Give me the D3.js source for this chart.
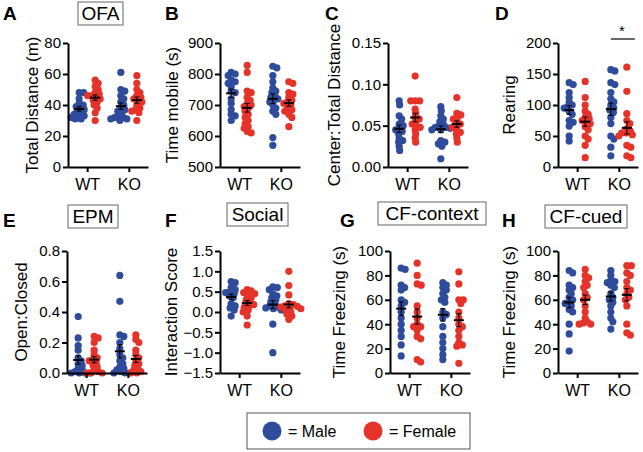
<!DOCTYPE html>
<html>
<head>
<meta charset="utf-8">
<script src="https://cdn.jsdelivr.net/npm/d3@7"></script>
<style>
body { margin: 0; background: #fff; }
svg text { font-family: "Liberation Sans", Arial, Helvetica, sans-serif; fill: #000; }
</style>
</head>
<body>
<svg id="chart"></svg>
<script>
// categories
const genotypes = ["WT", "KO"];
const sexes = ["Male", "Female"];

// A - OFA total distance (m)
const distWtM = [48, 48, 44, 41, 40, 39, 38, 37, 36, 35, 34, 33, 33, 32, 31, 31];
const distWtF = [56, 54, 52, 50, 48, 47, 46, 46, 45, 44, 43, 42, 40, 38, 35, 30];
const distKoM = [61, 50, 49, 46, 44, 42, 40, 38, 37, 36, 35, 33, 32, 32, 31, 31, 30];
const distKoF = [59, 54, 50, 48, 46, 45, 44, 43, 42, 40, 38, 37, 36, 35, 30];
// B - time mobile (s)
const mobileWtM = [800, 805, 795, 780, 775, 770, 760, 745, 740, 720, 705, 685, 670, 665, 650];
const mobileWtF = [828, 805, 745, 740, 725, 715, 705, 700, 695, 690, 680, 670, 660, 650, 640, 630, 625, 615, 610];
const mobileKoM = [825, 820, 795, 775, 755, 745, 740, 730, 725, 720, 715, 710, 700, 690, 680, 670, 595, 570];
const mobileKoF = [775, 770, 740, 735, 725, 715, 710, 705, 700, 690, 685, 680, 670, 660, 630];
// C - center : total distance
const centerWtM = [0.080, 0.075, 0.062, 0.058, 0.052, 0.050, 0.047, 0.045, 0.043, 0.040, 0.035, 0.032, 0.030, 0.025, 0.020];
const centerWtF = [0.110, 0.080, 0.080, 0.080, 0.070, 0.065, 0.060, 0.058, 0.055, 0.052, 0.050, 0.048, 0.045, 0.040, 0.035, 0.030];
const centerKoM = [0.073, 0.068, 0.062, 0.058, 0.055, 0.052, 0.050, 0.048, 0.047, 0.045, 0.048, 0.045, 0.032, 0.030, 0.028, 0.025, 0.010];
const centerKoF = [0.084, 0.065, 0.063, 0.060, 0.058, 0.055, 0.052, 0.050, 0.048, 0.045, 0.042, 0.040, 0.035, 0.030];
// D - rearing
const rearWtM = [136, 133, 120, 112, 105, 100, 98, 95, 90, 85, 75, 72, 66, 50, 42];
const rearWtF = [138, 112, 100, 90, 85, 80, 78, 75, 72, 70, 65, 60, 50, 45, 35, 15];
const rearKoM = [157, 155, 136, 133, 120, 110, 105, 100, 95, 92, 88, 80, 70, 50, 45, 32, 18];
const rearKoF = [161, 122, 86, 75, 70, 62, 58, 55, 55, 52, 50, 35, 32, 18, 15];
// E - EPM open : closed
const epmWtM = [0.37, 0.23, 0.18, 0.15, 0.10, 0.08, 0.06, 0.05, 0.03, 0.02, 0.01, 0.0, 0.0, 0.0, 0.0];
const epmWtF = [0.24, 0.23, 0.20, 0.15, 0.12, 0.10, 0.09, 0.08, 0.07, 0.05, 0.04, 0.02, 0.01, 0.0, 0.0, 0.0];
const epmKoM = [0.64, 0.47, 0.25, 0.24, 0.20, 0.16, 0.12, 0.10, 0.08, 0.06, 0.04, 0.03, 0.02, 0.01, 0.0, 0.0, 0.0];
const epmKoF = [0.25, 0.22, 0.20, 0.15, 0.12, 0.10, 0.08, 0.06, 0.05, 0.03, 0.02, 0.01, 0.0, 0.0];
// F - social interaction score
const socialWtM = [0.75, 0.72, 0.60, 0.55, 0.50, 0.48, 0.45, 0.40, 0.35, 0.20, 0.15, 0.10, 0.05, -0.10];
const socialWtF = [0.55, 0.52, 0.48, 0.45, 0.40, 0.35, 0.30, 0.25, 0.20, 0.18, 0.15, 0.10, 0.05, 0.0, -0.10, -0.32];
const socialKoM = [0.62, 0.60, 0.55, 0.45, 0.40, 0.35, 0.30, 0.25, 0.20, 0.15, 0.12, 0.10, 0.08, 0.05, -0.30, -1.0];
const socialKoF = [1.0, 0.65, 0.42, 0.20, 0.18, 0.15, 0.14, 0.12, 0.10, 0.08, 0.05, 0.0, -0.05, -0.10, -0.18];
// G - CF context freezing (s)
const ctxWtM = [86, 85, 72, 70, 68, 60, 58, 55, 50, 45, 40, 35, 30, 23, 14];
const ctxWtF = [90, 80, 73, 72, 55, 50, 45, 38, 40, 38, 35, 30, 28, 11, 9];
const ctxKoM = [74, 72, 70, 68, 65, 62, 60, 58, 50, 48, 45, 38, 30, 25, 20, 15, 11];
const ctxKoF = [83, 73, 60, 60, 57, 50, 45, 40, 38, 35, 30, 25, 23, 22, 8];
// H - CF cued freezing (s)
const cuedWtM = [84, 82, 72, 70, 68, 65, 62, 60, 58, 57, 55, 52, 50, 40, 32, 18];
const cuedWtF = [85, 80, 78, 75, 72, 70, 65, 62, 60, 55, 50, 45, 42, 41, 40, 40];
const cuedKoM = [84, 80, 76, 75, 74, 72, 70, 65, 62, 60, 58, 55, 50, 45, 42, 36];
const cuedKoF = [88, 88, 82, 80, 75, 70, 68, 65, 62, 60, 55, 40, 33, 31];

// tick labels
const ticksA = [0, 20, 40, 60, 80];
const ticksB = [500, 600, 700, 800, 900];
const ticksC = [0, 0.05, 0.10, 0.15];
const ticksD = [0, 50, 100, 150, 200];
const ticksE = [0, 0.2, 0.4, 0.6, 0.8];
const ticksF = [-1.5, -1.0, -0.5, 0, 0.5, 1.0, 1.5];
const ticksG = [0, 20, 40, 60, 80, 100];
const ticksH = [0, 20, 40, 60, 80, 100];

const colors = { Male: "#2f4b9c", Female: "#e5332a" };

const panels = [
  { letter: "A", title: "OFA", ylab: "Total Distance (m)", ticks: ticksA, fmt: d3.format("d"),
    data: { WT: [distWtM, distWtF], KO: [distKoM, distKoF] },
    x0: 68, top: 43, bottom: 167, lx: 3, ly: 20, labX: 32, box: [78, 2, 45, 23] },
  { letter: "B", ylab: "Time mobile (s)", ticks: ticksB, fmt: d3.format("d"),
    data: { WT: [mobileWtM, mobileWtF], KO: [mobileKoM, mobileKoF] },
    x0: 220, top: 43, bottom: 167, lx: 165, ly: 20, labX: 172 },
  { letter: "C", ylab: "Center:Total Distance", ticks: ticksC, fmt: d3.format(".2f"),
    data: { WT: [centerWtM, centerWtF], KO: [centerKoM, centerKoF] },
    x0: 388, top: 43, bottom: 167, lx: 325, ly: 20, labX: 334 },
  { letter: "D", ylab: "Rearing", ticks: ticksD, fmt: d3.format("d"),
    data: { WT: [rearWtM, rearWtF], KO: [rearKoM, rearKoF] },
    x0: 558, top: 43, bottom: 167, lx: 495, ly: 20, labX: 509, star: "KO" },
  { letter: "E", title: "EPM", ylab: "Open:Closed", ticks: ticksE, fmt: d3.format(".1f"),
    data: { WT: [epmWtM, epmWtF], KO: [epmKoM, epmKoF] },
    x0: 67, top: 251, bottom: 373, lx: 3, ly: 227, labX: 21, box: [68, 205, 50, 23] },
  { letter: "F", title: "Social", ylab: "Interaction Score", ticks: ticksF, fmt: d3.format(".1f"),
    data: { WT: [socialWtM, socialWtF], KO: [socialKoM, socialKoF] },
    x0: 220, top: 251, bottom: 373, lx: 165, ly: 227, labX: 171, box: [227, 203, 61, 23] },
  { letter: "G", title: "CF-context", ylab: "Time Freezing (s)", ticks: ticksG, fmt: d3.format("d"),
    data: { WT: [ctxWtM, ctxWtF], KO: [ctxKoM, ctxKoF] },
    x0: 390, top: 251, bottom: 373, lx: 340, ly: 227, labX: 339, box: [378, 202, 108, 23] },
  { letter: "H", title: "CF-cued", ylab: "Time Freezing (s)", ticks: ticksH, fmt: d3.format("d"),
    data: { WT: [cuedWtM, cuedWtF], KO: [cuedKoM, cuedKoF] },
    x0: 558, top: 251, bottom: 373, lx: 502, ly: 227, labX: 509, box: [545, 205, 82, 23] }
];

const width = 643, height = 452;
const svg = d3.select("#chart").attr("width", width).attr("height", height);

const r = 3.6;

// simple beeswarm: nudge each dot sideways until it doesn't collide
function swarm(vals, y, cx) {
  const pts = vals.map(v => ({ v, y: y(v) })).sort((a, b) => a.y - b.y);
  const placed = [];
  const minD = r * 1.15;
  pts.forEach(p => {
    let dx = 0;
    for (let k = 0; k < 80; k++) {
      const tries = k === 0 ? [0] : [k * 0.5, -k * 0.5];
      const ok = tries.find(t => placed.every(q => Math.hypot(q.x - (cx + t), q.y - p.y) >= minD));
      if (ok !== undefined) { dx = ok; break; }
    }
    p.x = cx + dx;
    placed.push(p);
  });
  return pts;
}

panels.forEach(p => {
  const g = svg.append("g");
  const w = 80;

  const y = d3.scaleLinear()
    .domain([p.ticks[0], p.ticks[p.ticks.length - 1]])
    .range([p.bottom, p.top]);
  const x = d3.scalePoint().domain(genotypes).range([p.x0, p.x0 + w]).padding(0.46);
  const sub = d3.scalePoint().domain(sexes).range([-8, 8]);

  // dots
  genotypes.forEach(gt => {
    sexes.forEach((s, si) => {
      const vals = p.data[gt][si];
      const pts = swarm(vals, y, x(gt) + sub(s));
      g.append("g").selectAll("circle")
        .data(pts)
        .join("circle")
        .attr("cx", d => d.x)
        .attr("cy", d => d.y)
        .attr("r", r)
        .attr("fill", colors[s]);
    });
  });

  // mean + SEM
  genotypes.forEach(gt => {
    sexes.forEach((s, si) => {
      const vals = p.data[gt][si];
      const m = d3.mean(vals);
      const sem = d3.deviation(vals) / Math.sqrt(vals.length);
      const cx = x(gt) + sub(s);
      const eg = g.append("g").attr("stroke", "#000");
      eg.append("line")
        .attr("x1", cx - 5).attr("x2", cx + 5)
        .attr("y1", y(m)).attr("y2", y(m))
        .attr("stroke-width", 2);
      eg.append("line")
        .attr("x1", cx).attr("x2", cx)
        .attr("y1", y(m - sem)).attr("y2", y(m + sem))
        .attr("stroke-width", 1);
      [m - sem, m + sem].forEach(v => {
        eg.append("line")
          .attr("x1", cx - 2.5).attr("x2", cx + 2.5)
          .attr("y1", y(v)).attr("y2", y(v))
          .attr("stroke-width", 1);
      });
    });
  });

  // axes
  const yAxis = g.append("g")
    .attr("transform", `translate(${p.x0},0)`)
    .call(d3.axisLeft(y).tickValues(p.ticks).tickFormat(p.fmt).tickSize(5).tickSizeOuter(0).tickPadding(2));
  const xAxis = g.append("g")
    .attr("transform", `translate(0,${p.bottom})`)
    .call(d3.axisBottom(x).tickSize(5).tickSizeOuter(0).tickPadding(7));
  [yAxis, xAxis].forEach(a => {
    a.select(".domain").attr("stroke", "#000").attr("stroke-width", 2);
    a.selectAll(".tick line").attr("stroke", "#000").attr("stroke-width", 2);
  });
  yAxis.selectAll("text").style("font-size", "15px");
  xAxis.selectAll("text").style("font-size", "16px");

  // y label
  g.append("text")
    .attr("transform", `translate(${p.labX},${(p.top + p.bottom) / 2}) rotate(-90)`)
    .attr("text-anchor", "middle")
    .attr("dy", "0.35em")
    .style("font-size", "17px")
    .text(p.ylab);

  // panel letter
  g.append("text")
    .attr("x", p.lx).attr("y", p.ly)
    .style("font-size", "19px").style("font-weight", "bold")
    .text(p.letter);

  // boxed title
  if (p.box) {
    const [bx, by, bw, bh] = p.box;
    g.append("rect")
      .attr("x", bx).attr("y", by).attr("width", bw).attr("height", bh)
      .attr("fill", "none").attr("stroke", "#666").attr("stroke-width", 1);
    g.append("text")
      .attr("x", bx + bw / 2).attr("y", by + bh / 2)
      .attr("text-anchor", "middle").attr("dy", "0.36em")
      .style("font-size", "19px")
      .text(p.title);
  }

  // significance marker
  if (p.star) {
    const sy = 39;
    g.append("line")
      .attr("x1", x(p.star) - 8).attr("x2", x(p.star) + 16)
      .attr("y1", sy).attr("y2", sy)
      .attr("stroke", "#000").attr("stroke-width", 1.2);
    g.append("text")
      .attr("x", x(p.star) + 3).attr("y", sy - 3)
      .attr("text-anchor", "middle")
      .style("font-size", "15px")
      .text("*");
  }
});

// legend
const lg = svg.append("g");
lg.append("rect")
  .attr("x", 247).attr("y", 413).attr("width", 223).attr("height", 36)
  .attr("fill", "none").attr("stroke", "#555").attr("stroke-width", 1);
sexes.forEach((s, i) => {
  const cx = [272, 373][i];
  lg.append("circle").attr("cx", cx).attr("cy", 431).attr("r", 9.5).attr("fill", colors[s]);
  lg.append("text")
    .attr("x", cx + 16).attr("y", 431).attr("dy", "0.36em")
    .style("font-size", "16px")
    .text("= " + s);
});
</script>
</body>
</html>
